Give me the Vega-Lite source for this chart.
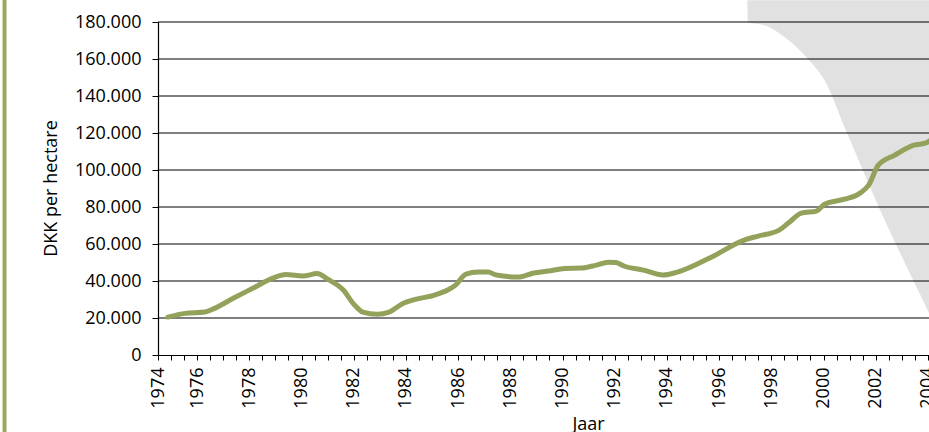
{
  "$schema": "https://vega.github.io/schema/vega-lite/v6.json",
  "autosize": "none",
  "width": 796,
  "height": 333,
  "padding": {"left": 158, "top": 22, "right": 0, "bottom": 77},
  "background": "white",
  "config": {
    "view": {"stroke": null},
    "font": "Open Sans",
    "axis": {"labelFont": "Open Sans", "titleFont": "Open Sans", "labelColor": "#000000", "titleColor": "#000000", "titleFontWeight": "normal", "domainColor": "#000000", "tickColor": "#000000", "domainWidth": 1.2, "tickWidth": 1}
  },
  "datasets": {
    "prijs": [
      {"jaar": 1974.88, "dkk": 20500}, {"jaar": 1975.54, "dkk": 22500}, {"jaar": 1976.3, "dkk": 23200},
      {"jaar": 1976.6, "dkk": 24800}, {"jaar": 1977.4, "dkk": 30800}, {"jaar": 1978.15, "dkk": 36200},
      {"jaar": 1978.9, "dkk": 41600}, {"jaar": 1979.4, "dkk": 43500}, {"jaar": 1980.05, "dkk": 42700},
      {"jaar": 1980.6, "dkk": 44000}, {"jaar": 1981.0, "dkk": 41000}, {"jaar": 1981.6, "dkk": 35100},
      {"jaar": 1982.0, "dkk": 27500}, {"jaar": 1982.35, "dkk": 23200}, {"jaar": 1982.9, "dkk": 22000},
      {"jaar": 1983.35, "dkk": 23200}, {"jaar": 1983.9, "dkk": 28000}, {"jaar": 1984.4, "dkk": 30200},
      {"jaar": 1985.1, "dkk": 32400}, {"jaar": 1985.6, "dkk": 35100}, {"jaar": 1985.9, "dkk": 37800},
      {"jaar": 1986.3, "dkk": 43700}, {"jaar": 1986.77, "dkk": 44800}, {"jaar": 1987.15, "dkk": 44800},
      {"jaar": 1987.46, "dkk": 43200}, {"jaar": 1988.3, "dkk": 42100}, {"jaar": 1988.9, "dkk": 44300},
      {"jaar": 1989.46, "dkk": 45400}, {"jaar": 1990.08, "dkk": 46800}, {"jaar": 1990.73, "dkk": 47000},
      {"jaar": 1991.3, "dkk": 48600}, {"jaar": 1991.75, "dkk": 50200}, {"jaar": 1992.05, "dkk": 50000},
      {"jaar": 1992.35, "dkk": 48100}, {"jaar": 1993.1, "dkk": 45900}, {"jaar": 1993.85, "dkk": 43200},
      {"jaar": 1994.4, "dkk": 44800}, {"jaar": 1995.7, "dkk": 52900}, {"jaar": 1996.96, "dkk": 62100},
      {"jaar": 1997.5, "dkk": 64300}, {"jaar": 1998.3, "dkk": 67500}, {"jaar": 1998.65, "dkk": 71300},
      {"jaar": 1999.15, "dkk": 76700}, {"jaar": 1999.73, "dkk": 77800}, {"jaar": 2000.04, "dkk": 81500},
      {"jaar": 2000.8, "dkk": 84200}, {"jaar": 2001.4, "dkk": 87500}, {"jaar": 2001.73, "dkk": 91800},
      {"jaar": 2002.1, "dkk": 102600}, {"jaar": 2002.73, "dkk": 108000}, {"jaar": 2003.46, "dkk": 113400},
      {"jaar": 2003.9, "dkk": 114500}, {"jaar": 2004.15, "dkk": 116600}
    ],
    "vlak": [
      {"jaar": 1997.08, "rand": 191700}, {"jaar": 1997.1, "rand": 179800}, {"jaar": 1997.8, "rand": 178000},
      {"jaar": 1998.4, "rand": 173000}, {"jaar": 1999.0, "rand": 166000}, {"jaar": 1999.5, "rand": 158500},
      {"jaar": 2000.04, "rand": 148500}, {"jaar": 2000.81, "rand": 123100}, {"jaar": 2002.12, "rand": 79900},
      {"jaar": 2004.04, "rand": 22700}, {"jaar": 2005.0, "rand": -6000}
    ],
    "raster": [
      {"v": 20000}, {"v": 40000}, {"v": 60000}, {"v": 80000}, {"v": 100000},
      {"v": 120000}, {"v": 140000}, {"v": 160000}, {"v": 180000}
    ]
  },
  "layer": [
    {
      "data": {"name": "vlak"},
      "mark": {"type": "area", "color": "#e1e1e1", "clip": false, "interpolate": "monotone"},
      "encoding": {
        "x": {
          "field": "jaar", "type": "quantitative",
          "scale": {"domain": [1974.5, 2005], "nice": false, "zero": false},
          "axis": {
            "title": "Jaar", "titleFontSize": 18, "titleX": 430, "titleY": 74, "titleBaseline": "alphabetic", "titleAnchor": null, "titleAlign": "center",
            "values": [1974.5, 1975, 1975.5, 1976, 1976.5, 1977, 1977.5, 1978, 1978.5, 1979, 1979.5, 1980, 1980.5, 1981, 1981.5, 1982, 1982.5, 1983, 1983.5, 1984, 1984.5, 1985, 1985.5, 1986, 1986.5, 1987, 1987.5, 1988, 1988.5, 1989, 1989.5, 1990, 1990.5, 1991, 1991.5, 1992, 1992.5, 1993, 1993.5, 1994, 1994.5, 1995, 1995.5, 1996, 1996.5, 1997, 1997.5, 1998, 1998.5, 1999, 1999.5, 2000, 2000.5, 2001, 2001.5, 2002, 2002.5, 2003, 2003.5, 2004, 2004.5],
            "tickCount": 200,
            "labelExpr": "datum.value == 1974.5 ? '1974' : (datum.value % 2 == 0 ? '' + datum.value : '')",
            "labelAngle": -90, "labelAlign": "right", "labelBaseline": "middle", "labelFontSize": 18,
            "labelPadding": 7, "labelFlush": false, "labelOverlap": false, "tickSize": 5, "grid": false
          }
        },
        "y": {"field": "rand", "type": "quantitative", "scale": {"domain": [0, 180000], "nice": false},
          "axis": {
            "title": "DKK per hectare", "titleFontSize": 18, "titleX": -102, "titleY": 166, "titleAngle": -90, "titleBaseline": "alphabetic", "titleAlign": "center", "titleAnchor": null,
            "values": [0, 20000, 40000, 60000, 80000, 100000, 120000, 140000, 160000, 180000],
            "tickCount": 50,
            "labelExpr": "datum.value == 0 ? '0' : replace(format(datum.value, ','), ',', '.')",
            "labelFontSize": 18, "labelPadding": 11, "labelOverlap": false, "tickSize": 6, "grid": false
          }
        },
        "y2": {"datum": 191700}
      }
    },
    {
      "data": {"name": "raster"},
      "mark": {"type": "rule", "color": "#000000", "strokeWidth": 1.2},
      "encoding": {"y": {"field": "v", "type": "quantitative"}}
    },
    {
      "data": {"name": "prijs"},
      "mark": {"type": "line", "color": "#93a25a", "strokeWidth": 5, "interpolate": "monotone", "strokeCap": "round", "clip": false},
      "encoding": {
        "x": {"field": "jaar", "type": "quantitative"},
        "y": {"field": "dkk", "type": "quantitative"}
      }
    },
    {
      "data": {"values": [{"jaar": 1968.62}]},
      "mark": {"type": "rule", "color": "#98a85c", "strokeWidth": 4, "clip": false},
      "encoding": {
        "x": {"field": "jaar", "type": "quantitative"},
        "y": {"datum": -45000}, "y2": {"datum": 195000}
      }
    }
  ]
}
